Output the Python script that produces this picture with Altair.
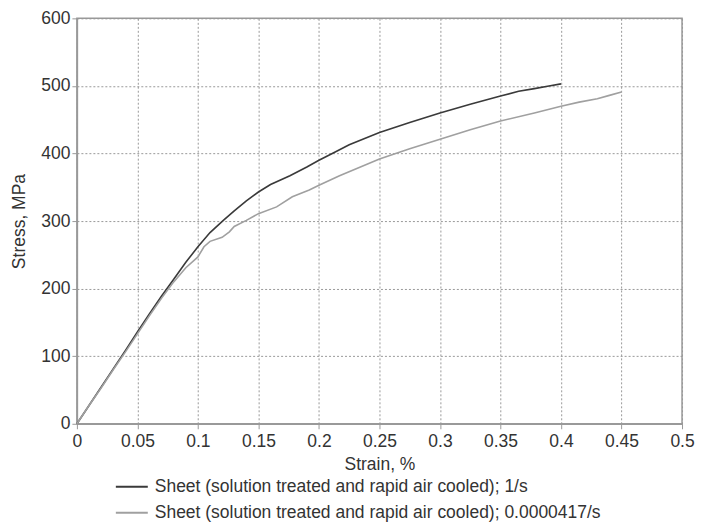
import altair as alt
import pandas as pd

fast_name = "Sheet (solution treated and rapid air cooled); 1/s"
slow_name = "Sheet (solution treated and rapid air cooled); 0.0000417/s"

fast_strain = [0, 0.01, 0.02, 0.03, 0.04, 0.05, 0.06, 0.07, 0.08, 0.09, 0.1, 0.11, 0.121, 0.13, 0.14,
               0.15, 0.16, 0.176, 0.19, 0.2, 0.211, 0.225, 0.25, 0.275, 0.3, 0.325, 0.35, 0.365,
               0.378, 0.39, 0.4]
fast_stress = [0, 27, 54, 81, 108, 136, 163, 189, 214, 239, 262, 283, 301, 315, 330,
               343, 354, 367, 380, 390, 400, 413, 431, 446, 460, 473, 485, 492,
               496, 500, 503]

slow_strain = [0, 0.01, 0.02, 0.03, 0.04, 0.05, 0.06, 0.07, 0.08, 0.09, 0.1, 0.105, 0.11, 0.12, 0.126,
               0.13, 0.14, 0.15, 0.165, 0.178, 0.192, 0.2, 0.217, 0.25, 0.275, 0.3, 0.325, 0.35,
               0.378, 0.4, 0.415, 0.43, 0.44, 0.45]
slow_stress = [0, 27, 53, 80, 106, 133, 160, 186, 210, 231, 247, 262, 270, 276, 284,
               292, 301, 311, 321, 336, 346, 353, 367, 392, 407, 421, 435, 448,
               460, 470, 476, 481, 486, 491]

df = pd.concat([
    pd.DataFrame({"strain": fast_strain, "stress": fast_stress, "series": fast_name, "order": range(len(fast_strain))}),
    pd.DataFrame({"strain": slow_strain, "stress": slow_stress, "series": slow_name, "order": range(len(slow_strain))}),
])

x_ticks = [0, 0.05, 0.1, 0.15, 0.2, 0.25, 0.3, 0.35, 0.4, 0.45, 0.5]
y_ticks = [0, 100, 200, 300, 400, 500, 600]

FONT = "Liberation Sans"
TXT = "#333333"

chart = alt.Chart(df).mark_line(strokeWidth=1.6).encode(
    x=alt.X("strain:Q", title="Strain, %",
            scale=alt.Scale(domain=[0, 0.5], nice=False),
            axis=alt.Axis(values=x_ticks, format="~g", labelPadding=4, titlePadding=5,
                          labelFlush=False)),
    y=alt.Y("stress:Q", title="Stress, MPa",
            scale=alt.Scale(domain=[0, 600], nice=False),
            axis=alt.Axis(values=y_ticks, labelPadding=2, titlePadding=12, labelFlush=False)),
    color=alt.Color("series:N", title=None,
                    scale=alt.Scale(domain=[fast_name, slow_name], range=["#3a3a3a", "#a0a0a0"]),
                    legend=alt.Legend(orient="none", legendX=38, legendY=452, symbolType="stroke",
                                      symbolSize=1024, symbolStrokeWidth=2, labelOffset=6,
                                      rowPadding=0, labelFontSize=17.5, labelFont=FONT,
                                      labelColor=TXT, labelLimit=600)),
    order="order:Q",
).properties(
    width=606, height=406,
    autosize=alt.AutoSizeParams(type="none"),
    padding={"left": 69, "top": 10, "right": 20, "bottom": 99},
).configure_view(
    stroke="#999999", strokeWidth=1.5
).configure_axis(
    labelFont=FONT, titleFont=FONT, labelFontSize=17.5, titleFontSize=17.5,
    labelColor=TXT, titleColor=TXT, titleFontWeight="normal",
    domainColor="#999999", domainWidth=1.5, tickColor="#999999", tickSize=5,
    gridColor="#999999", gridDash=[2, 2], gridWidth=1,
)

chart.save("out.html", embed_options={"renderer": "svg", "actions": False})
